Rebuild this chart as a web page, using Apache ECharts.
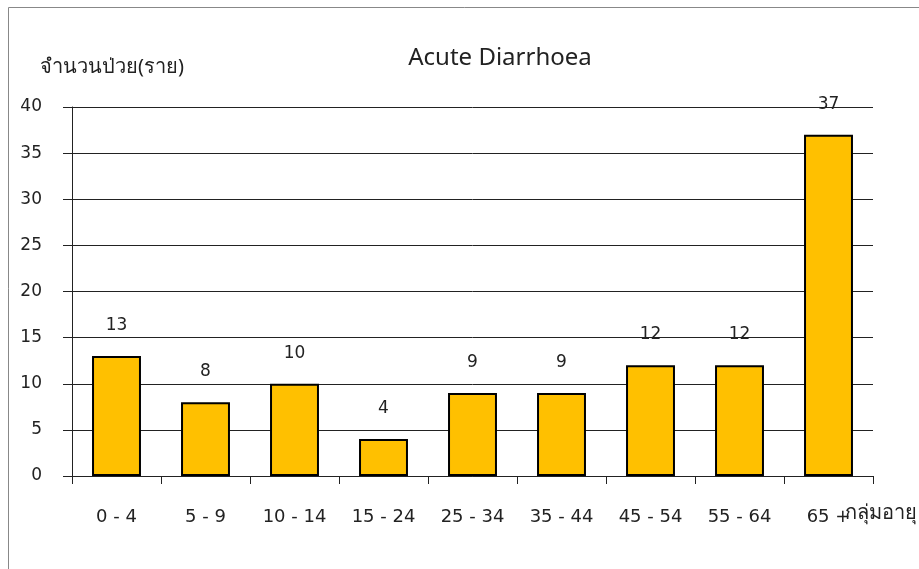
<!DOCTYPE html>
<html><head><meta charset="utf-8">
<script src="https://cdn.jsdelivr.net/npm/echarts@6/dist/echarts.min.js"></script>
<style>html,body{margin:0;padding:0;background:#fff}#c{width:919px;height:569px}</style>
</head><body><div id="c"></div>
<script>
const categories = ['0 - 4','5 - 9','10 - 14','15 - 24','25 - 34','35 - 44','45 - 54','55 - 64','65 +'];
const values = [13, 8, 10, 4, 9, 9, 12, 12, 37];
const yTicks = { min: 0, max: 40, interval: 5 };
const titleText = 'Acute Diarrhoea';
const yName = 'จำนวนป่วย(ราย)';
const xName = 'กลุ่มอายุ';

const FONT = '"DejaVu Sans", "Noto Sans", sans-serif';
const chart = echarts.init(document.getElementById('c'), null, {renderer:'canvas'});
chart.setOption({
  animation: false,
  backgroundColor: '#fff',
  title: { text: titleText, left: 495, top: 41, textAlign: 'center',
    textStyle: { fontFamily: '"Noto Sans", sans-serif', fontSize: 24, fontWeight: 'normal', color: '#222' } },
  grid: { left: 72, right: 46, top: 107, bottom: 93, containLabel: false },
  xAxis: {
    type: 'category', data: categories,
    axisLine: { lineStyle: { color: '#222', width: 1 } },
    axisTick: { show: true, length: 8, alignWithLabel: false, lineStyle: { color: '#222' } },
    axisLabel: { margin: 32, fontFamily: FONT, fontSize: 18, color: '#222' },
  },
  yAxis: {
    type: 'value', min: yTicks.min, max: yTicks.max, interval: yTicks.interval,
    axisLine: { show: true, lineStyle: { color: '#222' } },
    axisTick: { show: true, length: 9, lineStyle: { color: '#222' } },
    axisLabel: { margin: 30, fontFamily: FONT, fontSize: 17, color: '#222' },
    splitLine: { show: true, lineStyle: { color: '#222', width: 1 } }
  },
  series: [{
    type: 'bar', data: values, barCategoryGap: '45%',
    itemStyle: { color: '#FFC000', borderColor: '#000', borderWidth: 2 },
    label: { show: true, position: 'top', distance: 22, fontFamily: FONT, fontSize: 17, color: '#222' }
  }],
  graphic: [
    { type: 'rect', shape: { x: 8.5, y: 7.5, width: 1000, height: 1000 }, style: { fill: 'none', stroke: '#888', lineWidth: 1 }, silent: true },
    { type: 'text', left: 40, top: 57, style: { text: yName, fontFamily: '"Noto Sans", sans-serif', fontSize: 20, fill: '#222' } },
    { type: 'text', left: 845, top: 503, style: { text: xName, fontFamily: '"Noto Sans", sans-serif', fontSize: 20, fill: '#222' } }
  ]
});
</script></body></html>
